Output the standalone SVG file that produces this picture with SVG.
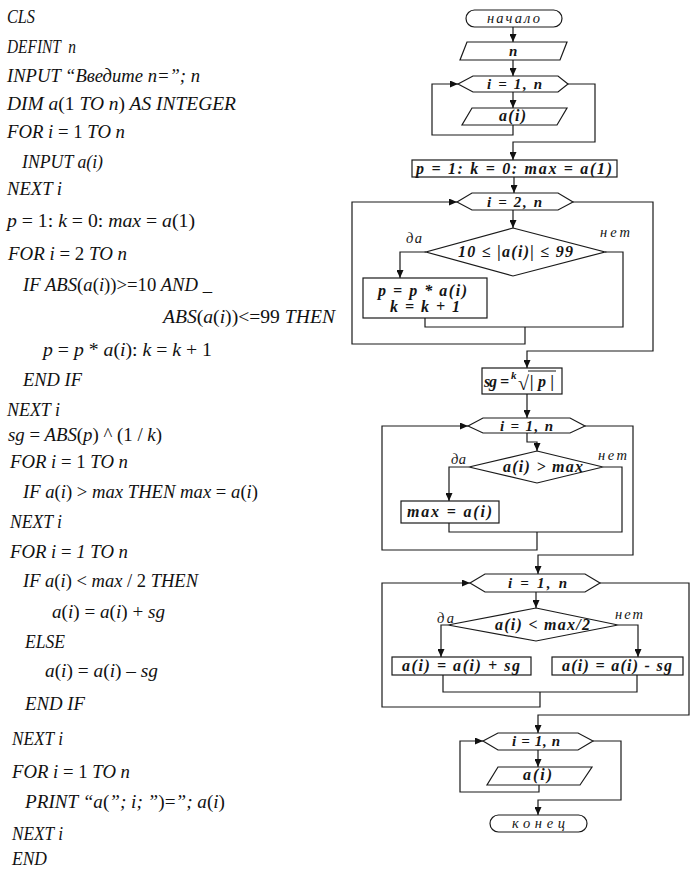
<svg xmlns="http://www.w3.org/2000/svg" width="694" height="875" viewBox="0 0 694 875">
<style>
.c{font-family:"Liberation Serif","Times New Roman",serif;font-style:italic;font-size:18.5px;fill:#111}
.u{font-style:normal}
.f{font-family:"Liberation Serif","Times New Roman",serif;font-style:italic;font-weight:bold;font-size:16px;fill:#151515}
.h{font-family:"Liberation Serif","Times New Roman",serif;font-style:italic;font-weight:bold;font-size:15px;fill:#151515}
.l{font-family:"Liberation Serif","Times New Roman",serif;font-style:italic;font-size:14.5px;fill:#151515}
.s{fill:#fff;stroke:#1a1a1a;stroke-width:1.2}
.k{fill:none;stroke:#1a1a1a;stroke-width:1.2}
</style>
<defs>
<marker id="ar" markerUnits="userSpaceOnUse" markerWidth="8" markerHeight="7" refX="8" refY="3.5" orient="auto">
<path d="M0,0 L8,3.5 L0,7 z" fill="#111"/>
</marker>
</defs>
<rect width="694" height="875" fill="#fff"/>

<g id="code">
<text class="c" x="7" y="23" textLength="28" lengthAdjust="spacingAndGlyphs">CLS</text>
<text class="c" x="7" y="53" textLength="69" lengthAdjust="spacingAndGlyphs" xml:space="preserve">DEFINT  n</text>
<text class="c" x="7" y="82" textLength="193" lengthAdjust="spacingAndGlyphs">INPUT “Введите n=”; n</text>
<text class="c" x="7" y="110" textLength="229" lengthAdjust="spacingAndGlyphs">DIM  a<tspan class="u">(1</tspan> TO n<tspan class="u">)</tspan>  AS INTEGER</text>
<text class="c" x="7" y="138" textLength="118" lengthAdjust="spacingAndGlyphs">FOR i <tspan class="u">= 1</tspan> TO n</text>
<text class="c" x="22" y="168" textLength="81" lengthAdjust="spacingAndGlyphs">INPUT a(i)</text>
<text class="c" x="7" y="195" textLength="55" lengthAdjust="spacingAndGlyphs">NEXT i</text>
<text class="c" x="7" y="227" textLength="188" lengthAdjust="spacingAndGlyphs">p <tspan class="u">= 1:</tspan> k <tspan class="u">= 0:</tspan>  max <tspan class="u">=</tspan> a<tspan class="u">(1)</tspan></text>
<text class="c" x="8" y="260" textLength="119" lengthAdjust="spacingAndGlyphs">FOR i <tspan class="u">= 2</tspan> TO n</text>
<text class="c" x="23" y="291" textLength="189" lengthAdjust="spacingAndGlyphs">IF ABS<tspan class="u">(</tspan>a<tspan class="u">(</tspan>i<tspan class="u">))&gt;=10</tspan> AND _</text>
<text class="c" x="163" y="323" textLength="172" lengthAdjust="spacingAndGlyphs">ABS<tspan class="u">(</tspan>a<tspan class="u">(</tspan>i<tspan class="u">))&lt;=99</tspan> THEN</text>
<text class="c" x="43" y="356" textLength="169" lengthAdjust="spacingAndGlyphs">p <tspan class="u">=</tspan> p <tspan class="u">*</tspan> a<tspan class="u">(</tspan>i<tspan class="u">):</tspan>  k <tspan class="u">=</tspan> k <tspan class="u">+ 1</tspan></text>
<text class="c" x="23" y="386" textLength="59" lengthAdjust="spacingAndGlyphs">END IF</text>
<text class="c" x="7" y="416" textLength="53" lengthAdjust="spacingAndGlyphs">NEXT i</text>
<text class="c" x="8" y="441" textLength="154" lengthAdjust="spacingAndGlyphs">sg <tspan class="u">=</tspan> ABS<tspan class="u">(</tspan>p<tspan class="u">) ^ (1 /</tspan> k<tspan class="u">)</tspan></text>
<text class="c" x="10" y="468" textLength="118" lengthAdjust="spacingAndGlyphs">FOR i <tspan class="u">= 1</tspan> TO n</text>
<text class="c" x="23" y="498" textLength="235" lengthAdjust="spacingAndGlyphs">IF a<tspan class="u">(</tspan>i<tspan class="u">) &gt;</tspan> max THEN max <tspan class="u">=</tspan> a<tspan class="u">(</tspan>i<tspan class="u">)</tspan></text>
<text class="c" x="10" y="528" textLength="52" lengthAdjust="spacingAndGlyphs">NEXT i</text>
<text class="c" x="10" y="558" textLength="118" lengthAdjust="spacingAndGlyphs">FOR i <tspan class="u">=</tspan> 1 TO n</text>
<text class="c" x="23" y="587" textLength="175" lengthAdjust="spacingAndGlyphs">IF a<tspan class="u">(</tspan>i<tspan class="u">) &lt;</tspan> max <tspan class="u">/ 2</tspan> THEN</text>
<text class="c" x="52" y="618" textLength="113" lengthAdjust="spacingAndGlyphs">a<tspan class="u">(</tspan>i<tspan class="u">) =</tspan> a<tspan class="u">(</tspan>i<tspan class="u">) +</tspan> sg</text>
<text class="c" x="25" y="648" textLength="40" lengthAdjust="spacingAndGlyphs">ELSE</text>
<text class="c" x="45" y="677" textLength="113" lengthAdjust="spacingAndGlyphs">a<tspan class="u">(</tspan>i<tspan class="u">) =</tspan> a<tspan class="u">(</tspan>i<tspan class="u">) –</tspan> sg</text>
<text class="c" x="25" y="710" textLength="60" lengthAdjust="spacingAndGlyphs">END IF</text>
<text class="c" x="12" y="745" textLength="51" lengthAdjust="spacingAndGlyphs">NEXT i</text>
<text class="c" x="12" y="778" textLength="118" lengthAdjust="spacingAndGlyphs">FOR i <tspan class="u">= 1</tspan> TO n</text>
<text class="c" x="25" y="808" textLength="200" lengthAdjust="spacingAndGlyphs">PRINT “a<tspan class="u">(</tspan>”; i; ”<tspan class="u">)=</tspan>”;  a<tspan class="u">(</tspan>i<tspan class="u">)</tspan></text>
<text class="c" x="12" y="840" textLength="51" lengthAdjust="spacingAndGlyphs">NEXT i</text>
<text class="c" x="12" y="865" textLength="35" lengthAdjust="spacingAndGlyphs">END</text>
</g>

<g id="connectors">
<path class="k" d="M513,27 V42" marker-end="url(#ar)"/>
<path class="k" d="M513,60 V76" marker-end="url(#ar)"/>
<path class="k" d="M513,92 V108" marker-end="url(#ar)"/>
<path class="k" d="M513,125 V135 H432 V84 H458" marker-end="url(#ar)"/>
<path class="k" d="M568,84 H595 V142 H513 V160" marker-end="url(#ar)"/>
<path class="k" d="M514,177 V193" marker-end="url(#ar)"/>
<path class="k" d="M513,210 V228" marker-end="url(#ar)"/>
<path class="k" d="M426,252 H400 V278" marker-end="url(#ar)"/>
<path class="k" d="M605,252 H623 V327 H425 V318"/>
<path class="k" d="M525,327 V344 H352 V202 H457" marker-end="url(#ar)"/>
<path class="k" d="M573,202 H653 V351 H527 V368" marker-end="url(#ar)"/>
<path class="k" d="M527,394 V418" marker-end="url(#ar)"/>
<path class="k" d="M527,433 V442 H537 V451" marker-end="url(#ar)"/>
<path class="k" d="M469,467 H449 V501" marker-end="url(#ar)"/>
<path class="k" d="M603,467 H622 V532 H449 V523"/>
<path class="k" d="M537,532 V550 H382 V426 H468" marker-end="url(#ar)"/>
<path class="k" d="M585,426 H633 V555 H538 V574" marker-end="url(#ar)"/>
<path class="k" d="M536,592 V608" marker-end="url(#ar)"/>
<path class="k" d="M448,625 H441 V657" marker-end="url(#ar)"/>
<path class="k" d="M618,625 H638 V657" marker-end="url(#ar)"/>
<path class="k" d="M443,675 V692 H637 V675"/>
<path class="k" d="M540,692 V707 H382 V583 H470" marker-end="url(#ar)"/>
<path class="k" d="M600,583 H689 V715 H538 V733" marker-end="url(#ar)"/>
<path class="k" d="M538,750 V767" marker-end="url(#ar)"/>
<path class="k" d="M539,785 V792 H460 V741 H483" marker-end="url(#ar)"/>
<path class="k" d="M593,741 H621 V800 H538 V815" marker-end="url(#ar)"/>
</g>

<g id="start">
<rect class="s" x="466" y="10" width="96" height="17" rx="8.5"/>
<text class="l" x="487" y="23" textLength="53">начало</text>
</g>
<g id="input-n">
<polygon class="s" points="467,42 567,42 560,60 460,60"/>
<text class="h" x="509" y="56">n</text>
</g>
<g id="loop1">
<polygon class="s" points="458,84 473,76 558,76 568,84 558,92 473,92"/>
<text class="h" x="487" y="89" textLength="55">i = 1, n</text>
</g>
<g id="input-a">
<polygon class="s" points="472,108 567,108 557,125 462,125"/>
<text class="f" x="499" y="121" textLength="27">a(i)</text>
</g>
<g id="init">
<rect class="s" x="412" y="160" width="205" height="17"/>
<text class="f" x="416" y="174" textLength="196">p = 1: k = 0:  max = a(1)</text>
</g>
<g id="loop2">
<polygon class="s" points="457,202 472,193 558,193 573,202 558,210 472,210"/>
<text class="h" x="487" y="207" textLength="55">i = 2, n</text>
</g>
<g id="cond1">
<polygon class="s" points="513,228 605,252 513,276 426,252"/>
<text class="f" x="458" y="257" textLength="115">10 ≤ |a(i)| ≤ 99</text>
<text class="l" x="406" y="243" textLength="16">да</text>
<text class="l" x="600" y="237" textLength="30">нет</text>
</g>
<g id="calc1">
<rect class="s" x="363" y="278" width="124" height="40"/>
<text class="f" x="378" y="296" textLength="89">p = p * a(i)</text>
<text class="f" x="390" y="312" textLength="70">k = k + 1</text>
</g>
<g id="sg">
<rect class="s" x="482" y="368" width="80" height="26"/>
<text class="f" x="484" y="387" textLength="13">sg</text>
<text class="f" x="500" y="387">=</text>
<text class="f" x="511" y="379" style="font-size:11px">k</text>
<text x="518" y="390" style="font-family:'Liberation Serif',serif;font-size:20px;fill:#151515">√</text>
<line x1="528" y1="371" x2="556" y2="371" stroke="#151515" stroke-width="1"/>
<text class="f" x="530" y="387" textLength="24">|p|</text>
</g>
<g id="loop3">
<polygon class="s" points="468,426 483,418 570,418 585,426 570,433 483,433"/>
<text class="h" x="500" y="431" textLength="53">i = 1, n</text>
</g>
<g id="cond2">
<polygon class="s" points="537,451 603,467 537,483 469,467"/>
<text class="f" x="503" y="472" textLength="80">a(i) &gt; max</text>
<text class="l" x="451" y="464" textLength="15">да</text>
<text class="l" x="598" y="460" textLength="29">нет</text>
</g>
<g id="setmax">
<rect class="s" x="401" y="501" width="98" height="22"/>
<text class="f" x="407" y="517" textLength="85">max = a(i)</text>
</g>
<g id="loop4">
<polygon class="s" points="470,583 485,574 585,574 600,583 585,592 485,592"/>
<text class="h" x="508" y="588" textLength="59">i = 1, n</text>
</g>
<g id="cond3">
<polygon class="s" points="536,608 618,625 536,641 448,625"/>
<text class="f" x="495" y="630" textLength="95">a(i) &lt; max/2</text>
<text class="l" x="437" y="623" textLength="17">да</text>
<text class="l" x="615" y="619" textLength="28">нет</text>
</g>
<g id="plus">
<rect class="s" x="392" y="657" width="139" height="18"/>
<text class="f" x="402" y="671" textLength="118">a(i) = a(i) + sg</text>
</g>
<g id="minus">
<rect class="s" x="552" y="657" width="131" height="18"/>
<text class="f" x="562" y="671" textLength="110">a(i) = a(i) - sg</text>
</g>
<g id="loop5">
<polygon class="s" points="483,741 498,733 578,733 593,741 578,750 498,750"/>
<text class="h" x="512" y="746" textLength="48">i = 1, n</text>
</g>
<g id="output-a">
<polygon class="s" points="498,767 592,767 580,785 487,785"/>
<text class="f" x="523" y="780" textLength="29">a(i)</text>
</g>
<g id="end">
<rect class="s" x="490" y="815" width="97" height="17" rx="8.5"/>
<text class="l" x="512" y="828" textLength="53">конец</text>
</g>
</svg>
